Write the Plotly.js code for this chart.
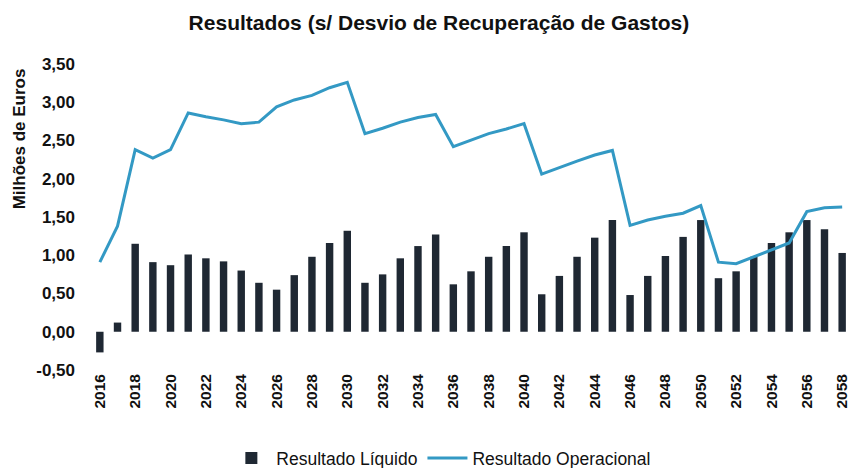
<!DOCTYPE html>
<html>
<head>
<meta charset="utf-8">
<script src="https://cdn.plot.ly/plotly-3.0.1.min.js"></script>
<style>html,body{margin:0;padding:0;background:#fff;}#chart{width:854px;height:468px;}</style>
</head>
<body>
<div id="chart"></div>
<script>
const years = [2016,2017,2018,2019,2020,2021,2022,2023,2024,2025,2026,2027,2028,2029,2030,2031,2032,2033,2034,2035,2036,2037,2038,2039,2040,2041,2042,2043,2044,2045,2046,2047,2048,2049,2050,2051,2052,2053,2054,2055,2056,2057,2058];
const resultadoLiquido = [-0.27,0.12,1.15,0.91,0.87,1.01,0.96,0.92,0.80,0.64,0.55,0.74,0.98,1.16,1.32,0.64,0.75,0.96,1.12,1.27,0.62,0.79,0.98,1.12,1.30,0.49,0.73,0.98,1.23,1.46,0.48,0.73,0.99,1.24,1.46,0.70,0.79,0.98,1.16,1.30,1.46,1.34,1.03];
const resultadoOperacional = [0.91,1.38,2.38,2.27,2.38,2.86,2.81,2.77,2.72,2.74,2.94,3.03,3.09,3.19,3.26,2.59,2.66,2.74,2.80,2.84,2.42,2.51,2.59,2.65,2.72,2.06,2.15,2.23,2.31,2.37,1.39,1.46,1.51,1.55,1.65,0.91,0.89,0.98,1.07,1.16,1.57,1.62,1.63];
const yTickVals = [-0.5,0,0.5,1,1.5,2,2.5,3,3.5];
const yTickText = ['-0,50','0,00','0,50','1,00','1,50','2,00','2,50','3,00','3,50'];
const seriesNames = ['Resultado Líquido','Resultado Operacional'];
const titleText = 'Resultados (s/ Desvio de Recuperação de Gastos)';
const yTitleText = 'Milhões de Euros';

const font = 'Liberation Sans, Arial, sans-serif';
const data = [
  {type:'bar', x:years, y:resultadoLiquido, name:seriesNames[0], marker:{color:'#1f2833'}},
  {type:'scatter', mode:'lines', x:years, y:resultadoOperacional, name:seriesNames[1], line:{color:'#3399c4', width:3}}
];
const layout = {
  width:854, height:468,
  margin:{l:91, r:3, t:64, b:98, autoexpand:false},
  paper_bgcolor:'#fff', plot_bgcolor:'#fff',
  bargap:0.58,
  showlegend:true,
  font:{family:font, color:'#111'},
  title:{text:'<b>'+titleText+'</b>', x:0.514, xanchor:'center', y:0.951, yanchor:'middle', font:{size:21, family:font, color:'#111'}},
  xaxis:{range:[2015.5,2058.5], automargin:false, tickmode:'array', tickvals:years.filter(y=>y%2===0), ticktext:years.filter(y=>y%2===0).map(y=>'<b>'+y+'</b>'), tickangle:-90, showgrid:false, zeroline:false, showline:false, ticks:'', tickfont:{size:15.5, family:font, color:'#111'}},
  yaxis:{range:[-0.5,3.5], automargin:false, tickmode:'array', tickvals:yTickVals, ticktext:yTickText.map(t=>'<b>'+t+'</b>'), showgrid:false, zeroline:false, showline:false, ticks:'', ticklabelstandoff:15, tickfont:{size:17, family:font, color:'#111'}},
  legend:{orientation:'h', yref:'container', x:0.461, xanchor:'center', y:0.021, yanchor:'middle', font:{size:17.5, family:font, color:'#111'}, traceorder:'normal', itemwidth:40},
  annotations:[{text:'<b>'+yTitleText+'</b>', xref:'paper', yref:'paper', x:-0.093, y:0.755, xanchor:'center', yanchor:'middle', textangle:-90, showarrow:false, font:{size:17, family:font, color:'#111'}}]
};
Plotly.newPlot('chart', data, layout, {displayModeBar:false, staticPlot:true});
</script>
</body>
</html>
